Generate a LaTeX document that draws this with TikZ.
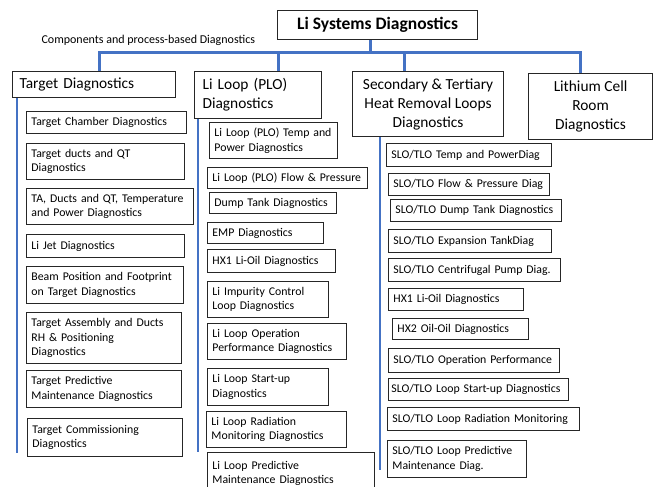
\documentclass[tikz,border=0pt]{standalone}
\usepackage{fontspec}
\setmainfont{Carlito}
\definecolor{busblue}{RGB}{68,114,196}
\hyphenpenalty=10000

\tikzstyle{bus} = [line width=3pt,busblue]
\tikzstyle{spine} = [line width=2pt,busblue]
\tikzstyle{head} = [draw=black!85,line width=1.1pt,anchor=north west,inner xsep=7pt,font=\fontsize{15.4}{19}\selectfont]
\tikzstyle{diag} = [draw=black!85,line width=0.9pt,anchor=north west,align=left,inner xsep=5pt,inner ysep=1pt,font=\fontsize{11.8}{14.5}\selectfont]

\begin{document}
\begin{tikzpicture}[x=1pt,y=-1pt]
\useasboundingbox (0,0) rectangle (656,487);

% Title and note
\node [draw=black!85,line width=1.1pt,anchor=north west,minimum width=200pt,minimum height=29pt,font=\fontsize{17.5}{20}\selectfont\bfseries] (top) at (277,10) {Li Systems Diagnostics};
\node [anchor=west,font=\fontsize{12}{14}\selectfont] (note) at (38,40) {Components and process-based Diagnostics};

% Column heads
\node [head,text width=149pt,minimum height=26pt,align=left] (tgt) at (12,71) {Target Diagnostics};
\node [head,inner xsep=8pt,text width=111pt,minimum height=47pt,align=left] (plo) at (194,71) {Li Loop (PLO)\\Diagnostics};
\node [head,minimum width=151pt,minimum height=65pt,align=center] (slo) at (352,71) {Secondary \& Tertiary\\Heat Removal Loops\\Diagnostics};
\node [head,minimum width=124pt,minimum height=66pt,align=center] (lcr) at (528,73) {Lithium Cell\\Room\\Diagnostics};

% Blue bus
\coordinate (jt) at (99,53);
\coordinate (jp) at (278,53);
\coordinate (jtop) at (370,53);
\coordinate (js) at (404,53);
\coordinate (jl) at (580,53);
\draw [bus] (jt |- tgt.north) -- (jt) -- (jl) -- (jl |- lcr.north);
\draw [bus] (jtop |- top.south) -- (jtop);
\draw [bus] (jp) -- (jp |- plo.north);
\draw [bus] (js) -- (js |- slo.north);

% Column spines
\coordinate (te) at (17,453);
\coordinate (pe) at (198,452);
\coordinate (se) at (380,470);
\draw [spine] (te |- tgt.south) -- (te);
\draw [spine] (pe |- plo.south) -- (pe);
\draw [spine] (se |- slo.south) -- (se);

% Target column
\node [diag,text width=150pt,minimum height=22pt] (tcd) at (26,111) {Target Chamber Diagnostics};
\node [diag,text width=148pt,minimum height=36pt] (tdq) at (26,143) {Target ducts and QT\\Diagnostics};
\node [diag,text width=157pt,minimum height=36pt] (tadq) at (26,188) {TA, Ducts and QT, Temperature\\and Power Diagnostics};
\node [diag,text width=148pt,minimum height=23pt] (ljd) at (26,234) {Li Jet Diagnostics};
\node [diag,text width=147pt,minimum height=37pt] (bpf) at (26,266) {Beam Position and Footprint\\on Target Diagnostics};
\node [diag,text width=145pt,minimum height=51pt] (tad) at (26,312) {Target Assembly and Ducts\\RH \& Positioning\\Diagnostics};
\node [diag,text width=145pt,minimum height=37pt] (tpm) at (26,370) {Target Predictive\\Maintenance Diagnostics};
\node [diag,text width=145pt,minimum height=38pt] (tcm) at (27,418) {Target Commissioning\\Diagnostics};

% Li Loop column
\node [diag,text width=118pt,minimum height=36pt] (ptp) at (209,122) {Li Loop (PLO) Temp and\\Power Diagnostics};
\node [diag,text width=150pt,minimum height=21pt] (pfp) at (207,167) {Li Loop (PLO) Flow \& Pressure};
\node [diag,text width=117pt,minimum height=21pt] (pdt) at (209,192) {Dump Tank Diagnostics};
\node [diag,text width=106pt,minimum height=21pt] (pemp) at (207,222) {EMP Diagnostics};
\node [diag,text width=118pt,minimum height=23pt] (phx) at (207,249) {HX1 Li-Oil Diagnostics};
\node [diag,text width=111pt,minimum height=36pt] (pimp) at (207,281) {Li Impurity Control\\Loop Diagnostics};
\node [diag,text width=129pt,minimum height=36pt] (pop) at (207,323) {Li Loop Operation\\Performance Diagnostics};
\node [diag,text width=111pt,minimum height=37pt] (psu) at (207,368) {Li Loop Start-up\\Diagnostics};
\node [diag,text width=130pt,minimum height=36pt] (prm) at (206,411) {Li Loop Radiation\\Monitoring Diagnostics};
\node [diag,text width=157pt,minimum height=42pt] (ppm) at (207,452) {Li Loop Predictive\\Maintenance Diagnostics};

% SLO/TLO column
\node [diag,text width=155pt,minimum height=23pt] (stp) at (386,143) {SLO/TLO Temp and PowerDiag};
\node [diag,text width=151pt,minimum height=22pt] (sfp) at (388,173) {SLO/TLO Flow \& Pressure Diag};
\node [diag,text width=161pt,minimum height=22pt] (sdt) at (390,199) {SLO/TLO Dump Tank Diagnostics};
\node [diag,text width=153pt,minimum height=23pt] (sex) at (388,229) {SLO/TLO Expansion TankDiag};
\node [diag,text width=162pt,minimum height=23pt] (scp) at (388,258) {SLO/TLO Centrifugal Pump Diag.};
\node [diag,text width=125pt,minimum height=22pt] (shx1) at (388,288) {HX1 Li-Oil Diagnostics};
\node [diag,text width=126pt,minimum height=21pt] (shx2) at (392,318) {HX2 Oil-Oil Diagnostics};
\node [diag,text width=161pt,minimum height=24pt] (sop) at (388,348) {SLO/TLO Operation Performance};
\node [diag,inner xsep=3pt,text width=174pt,minimum height=22pt] (ssu) at (388,378) {SLO/TLO Loop Start-up Diagnostics};
\node [diag,text width=182pt,minimum height=23pt] (srm) at (387,407) {SLO/TLO Loop Radiation Monitoring};
\node [diag,text width=129pt,minimum height=37pt] (spm) at (387,440) {SLO/TLO Loop Predictive\\Maintenance Diag.};

\end{tikzpicture}
\end{document}
